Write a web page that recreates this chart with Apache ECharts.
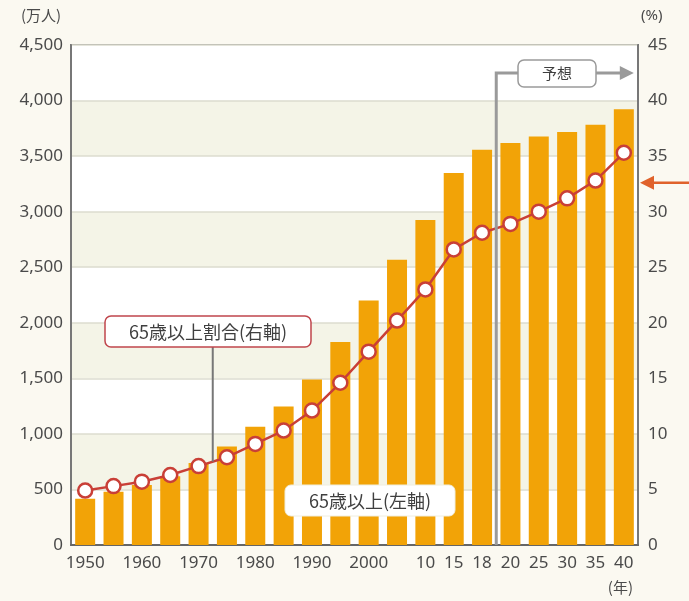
<!DOCTYPE html>
<html>
<head>
<meta charset="utf-8">
<script src="https://cdn.jsdelivr.net/npm/echarts@6/dist/echarts.min.js"></script>
<style>
  html, body { margin: 0; padding: 0; background: #fbf9f1; }
  #chart { width: 689px; height: 601px; }
</style>
</head>
<body>
<div id="chart"></div>
<script>
// Years (categories) and their tick labels
var years = ['1950', '1955', '1960', '1965', '1970', '1975', '1980', '1985', '1990', '1995',
             '2000', '2005', '2010', '2015', '2018', '2020', '2025', '2030', '2035', '2040'];
var yearLabels = ['1950', '', '1960', '', '1970', '', '1980', '', '1990', '',
                  '2000', '', '10', '15', '18', '20', '25', '30', '35', '40'];

// 65歳以上人口 (万人, left axis)
var elderly = [416, 479, 540, 618, 739, 887, 1065, 1247, 1489, 1826,
               2201, 2567, 2925, 3347, 3558, 3619, 3677, 3716, 3782, 3921];

// 65歳以上割合 (%, right axis)
var elderlyRatio = [4.9, 5.3, 5.7, 6.3, 7.1, 7.9, 9.1, 10.3, 12.1, 14.6,
                    17.4, 20.2, 23.0, 26.6, 28.1, 28.9, 30.0, 31.2, 32.8, 35.3];

var FONT = '"Noto Sans", "Noto Sans CJK JP", sans-serif';
var CJK = '"Noto Sans CJK JP", sans-serif';
var TXT = '#4a4a4a';
var LINE = '#c93f37';
var BAR = '#f2a307';

var chart = echarts.init(document.getElementById('chart'));

chart.setOption({
    backgroundColor: '#fbf9f1',
    animation: false,
    grid: {
        left: 71, right: 51, top: 45, bottom: 56,
        show: true, borderColor: '#777', borderWidth: 2, backgroundColor: '#ffffff'
    },
    xAxis: {
        type: 'category',
        data: years,
        axisLine: { lineStyle: { color: '#666', width: 2 } },
        axisTick: { inside: true, length: 4, interval: 0, lineStyle: { color: '#555' } },
        axisLabel: {
            interval: 0, margin: 10, color: TXT, fontFamily: FONT, fontSize: 17,
            formatter: function (v, i) { return yearLabels[i]; }
        }
    },
    yAxis: [{
        type: 'value', min: 0, max: 4500, interval: 500,
        axisLine: { show: true, lineStyle: { color: '#777', width: 2 } },
        axisTick: { show: false },
        axisLabel: {
            color: TXT, fontFamily: FONT, fontSize: 17, margin: 8,
            formatter: function (v) { return v.toLocaleString('en-US'); }
        },
        splitLine: { lineStyle: { color: '#dcdccf', width: 1.5 } },
        splitArea: { show: true, areaStyle: { color: ['#ffffff', '#f4f4e7'] } }
    }, {
        type: 'value', min: 0, max: 45, interval: 5, position: 'right',
        axisLine: { show: true, lineStyle: { color: '#777', width: 2 } },
        axisTick: { show: false },
        axisLabel: { color: TXT, fontFamily: FONT, fontSize: 17, margin: 10 },
        splitLine: { show: false }
    }],
    series: [{
        name: '65歳以上(左軸)',
        type: 'bar',
        data: elderly,
        barWidth: 20,
        itemStyle: { color: BAR }
    }, {
        name: '65歳以上割合(右軸)',
        type: 'line',
        yAxisIndex: 1,
        data: elderlyRatio,
        symbol: 'circle',
        symbolSize: 14,
        lineStyle: { color: LINE, width: 2.5 },
        itemStyle: { color: '#ffffff', borderColor: LINE, borderWidth: 2.5 },
        z: 5
    }]
});

// Annotations placed from axis coordinates
function px(idx, val, axis) {
    return chart.convertToPixel({ xAxisIndex: 0, yAxisIndex: axis }, [idx, val]);
}

var bottom = px(0, 0, 0)[1];
var split = (px(14, 0, 0)[0] + px(15, 0, 0)[0]) / 2;   // between 2018 and 2020
var right = px(19, 0, 0)[0] + 14;
var forecastY = 73;

var lead = [(px(4, 0, 1)[0] + px(5, 0, 1)[0]) / 2,
            (px(4, elderlyRatio[4], 1)[1] + px(5, elderlyRatio[5], 1)[1]) / 2];
var arrowY = px(0, 32.6, 1)[1];
var lastX = px(19, 0, 0)[0];

chart.setOption({
    graphic: [
        // axis units
        { type: 'text', left: 21, top: 8, style: { text: '(万人)', fill: TXT, font: '15px ' + CJK } },
        { type: 'text', left: 641, top: 8, style: { text: '(%)', fill: TXT, font: '15px ' + FONT } },
        { type: 'text', left: lastX - 16, top: 580, style: { text: '(年)', fill: TXT, font: '15px ' + CJK } },

        // forecast bracket
        { type: 'polyline', z: 20, shape: { points: [[split, bottom], [split, forecastY], [right - 16, forecastY]] },
          style: { stroke: '#9a9a9a', lineWidth: 3, fill: null } },
        { type: 'polygon', z: 20, shape: { points: [[right - 18, forecastY - 7], [right - 4, forecastY], [right - 18, forecastY + 7]] },
          style: { fill: '#9a9a9a' } },
        { type: 'rect', z: 21, shape: { x: 518, y: forecastY - 13, width: 78, height: 27, r: 6 },
          style: { fill: '#ffffff', stroke: '#9a9a9a', lineWidth: 1.5 } },
        { type: 'text', z: 22, x: 557, y: forecastY, style: { text: '予想', fill: '#3f3f3f', font: '15px ' + CJK, align: 'center', verticalAlign: 'middle' } },

        // ratio label with leader
        { type: 'line', z: 20, shape: { x1: lead[0], y1: 345, x2: lead[0], y2: lead[1] },
          style: { stroke: '#777', lineWidth: 2 } },
        { type: 'rect', z: 21, shape: { x: 105, y: 316, width: 206, height: 31, r: 6 },
          style: { fill: '#ffffff', stroke: '#c0464c', lineWidth: 1.5 } },
        { type: 'text', z: 22, x: 208, y: 332, style: { text: '65歳以上割合(右軸)', fill: '#3f3f3f', font: '18px ' + CJK, align: 'center', verticalAlign: 'middle' } },

        // bar label
        { type: 'rect', z: 21, shape: { x: 285, y: 485, width: 170, height: 31, r: 6 },
          style: { fill: '#ffffff', stroke: '#f0eede', lineWidth: 1 } },
        { type: 'text', z: 22, x: 370, y: 501, style: { text: '65歳以上(左軸)', fill: '#3f3f3f', font: '18px ' + CJK, align: 'center', verticalAlign: 'middle' } },

        // right arrow pointing at the ratio axis
        { type: 'line', z: 20, shape: { x1: 689, y1: arrowY, x2: 650, y2: arrowY },
          style: { stroke: '#e0622b', lineWidth: 2.5 } },
        { type: 'polygon', z: 20, shape: { points: [[654, arrowY - 7], [640, arrowY], [654, arrowY + 7]] },
          style: { fill: '#e0622b' } }
    ]
});
</script>
</body>
</html>
